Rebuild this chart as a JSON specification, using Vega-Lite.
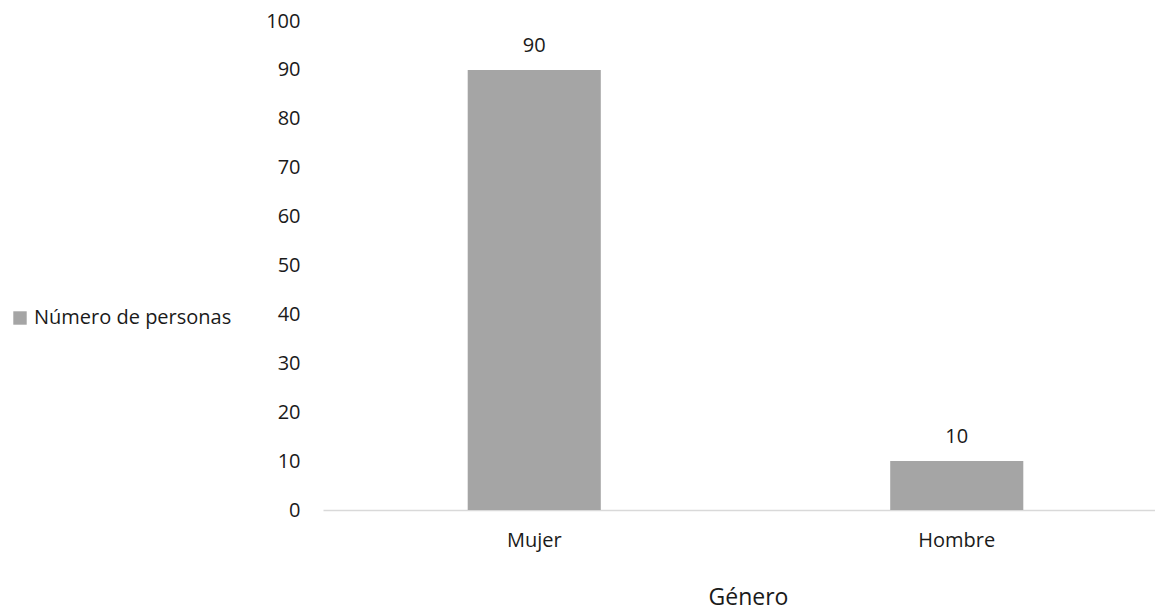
{
  "$schema": "https://vega.github.io/schema/vega-lite/v6.json",
  "width": 832,
  "height": 489,
  "autosize": {"type": "none"},
  "padding": {"left": 323, "top": 21, "right": 0, "bottom": 103},
  "background": "white",
  "config": {"view": {"stroke": null}, "font": "Open Sans"},
  "data": {
    "values": [
      {"genero": "Mujer", "personas": 90, "serie": "Número de personas"},
      {"genero": "Hombre", "personas": 10, "serie": "Número de personas"}
    ]
  },
  "encoding": {
    "x": {
      "field": "genero",
      "type": "nominal",
      "sort": ["Mujer", "Hombre"],
      "scale": {"range": [0, 845], "paddingInner": 0, "paddingOuter": 0},
      "axis": {
        "title": "Género",
        "labelAngle": 0,
        "ticks": false,
        "domainColor": "#d9d9d9",
        "domainWidth": 1.5,
        "labelFont": "Open Sans",
        "labelFontSize": 20,
        "labelColor": "#1a1a1a",
        "labelPadding": 20,
        "titleFont": "Open Sans",
        "titleFontSize": 23,
        "titleFontWeight": "normal",
        "titleColor": "#1a1a1a",
        "titleX": 425,
        "titleY": 94,
        "titleBaseline": "alphabetic"
      }
    },
    "y": {
      "field": "personas",
      "type": "quantitative",
      "scale": {"domain": [0, 100]},
      "axis": {
        "title": null,
        "values": [0, 10, 20, 30, 40, 50, 60, 70, 80, 90, 100],
        "domain": false,
        "ticks": false,
        "grid": false,
        "labelPadding": 23,
        "labelFont": "Open Sans",
        "labelFontSize": 20,
        "labelColor": "#1a1a1a"
      }
    }
  },
  "layer": [
    {
      "mark": {"type": "bar", "width": {"band": 0.315}},
      "encoding": {
        "color": {
          "field": "serie",
          "type": "nominal",
          "scale": {"range": ["#a5a5a5"]},
          "legend": {
            "title": null,
            "orient": "none",
            "legendX": -313,
            "legendY": 287,
            "padding": 0,
            "symbolType": "square",
            "symbolSize": 180,
            "symbolStrokeWidth": 0,
            "labelFont": "Open Sans",
            "labelFontSize": 20,
            "labelColor": "#1a1a1a",
            "labelOffset": 4,
            "labelLimit": 0
          }
        }
      }
    },
    {
      "mark": {
        "type": "text",
        "dy": -18,
        "baseline": "alphabetic",
        "font": "Open Sans",
        "fontSize": 20,
        "color": "#1a1a1a"
      },
      "encoding": {"text": {"field": "personas", "type": "quantitative"}}
    }
  ]
}
